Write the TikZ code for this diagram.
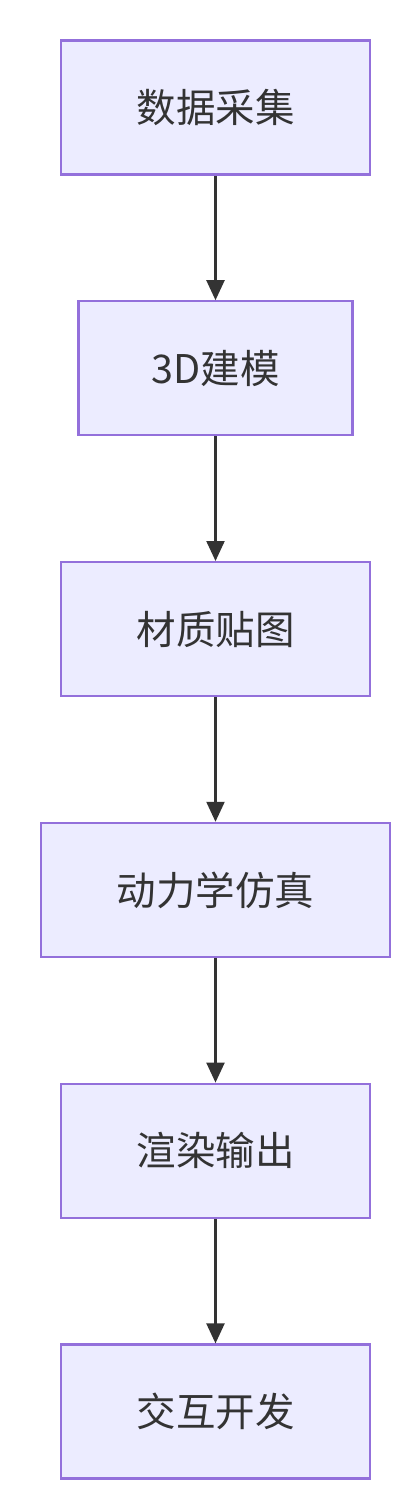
\documentclass[tikz,border=0pt]{standalone}
\usepackage{fontspec}
\setmainfont{Noto Sans CJK SC}
\usepackage{xcolor}
\usetikzlibrary{arrows.meta,positioning}

\definecolor{boxfill}{HTML}{ECECFF}
\definecolor{boxline}{HTML}{9370DB}
\definecolor{ink}{HTML}{333333}

\begin{document}
\begin{tikzpicture}[x=1pt,y=-1pt,
  stagebox/.style={draw=boxline, fill=boxfill, line width=2.2pt, minimum height=134pt,
    inner sep=0pt, text=ink, font=\fontsize{39.5}{46}\selectfont},
  flow/.style={draw=ink, line width=2.2pt, -{Triangle[length=20pt,width=18pt]}},
  node distance=124.6pt]
  \useasboundingbox (0,0) rectangle (411,1500);

  \node[stagebox, minimum width=309pt] (collect) at (215.5,107.5) {数据采集};
  \node[stagebox, minimum width=274pt, below=of collect] (model) {3D建模};
  \node[stagebox, minimum width=309pt, below=of model] (texture) {材质贴图};
  \node[stagebox, minimum width=349pt, below=of texture] (sim) {动力学仿真};
  \node[stagebox, minimum width=309pt, below=of sim] (render) {渲染输出};
  \node[stagebox, minimum width=309pt, below=of render] (interact) {交互开发};

  \draw[flow] (collect) -- (model);
  \draw[flow] (model) -- (texture);
  \draw[flow] (texture) -- (sim);
  \draw[flow] (sim) -- (render);
  \draw[flow] (render) -- (interact);
\end{tikzpicture}
\end{document}
